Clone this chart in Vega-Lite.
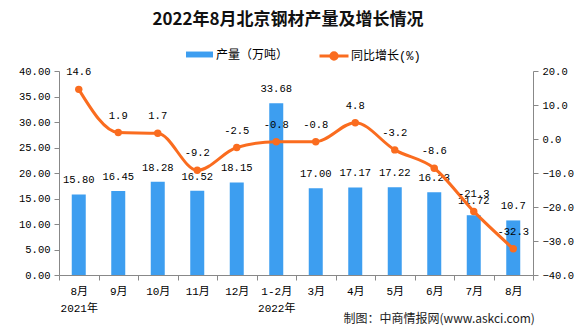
{
  "$schema": "https://vega.github.io/schema/vega-lite/v6.json",
  "width": 474,
  "height": 204,
  "autosize": {"type": "none"},
  "padding": {"left": 59, "top": 71, "right": 42, "bottom": 51},
  "background": "white",
  "title": {
    "text": "2022年8月北京钢材产量及增长情况",
    "font": "Noto Sans CJK SC",
    "fontSize": 17,
    "fontWeight": "bold",
    "color": "#111111",
    "anchor": "middle",
    "dx": -8,
    "offset": 11
  },
  "data": {
    "values": [
      {"period": "2021年8月", "prod": 15.80, "prodLabel": "15.80", "yoy": 14.6, "yoyLabel": "14.6"},
      {"period": "2021年9月", "prod": 16.45, "prodLabel": "16.45", "yoy": 1.9, "yoyLabel": "1.9"},
      {"period": "2021年10月", "prod": 18.28, "prodLabel": "18.28", "yoy": 1.7, "yoyLabel": "1.7"},
      {"period": "2021年11月", "prod": 16.52, "prodLabel": "16.52", "yoy": -9.2, "yoyLabel": "-9.2"},
      {"period": "2021年12月", "prod": 18.15, "prodLabel": "18.15", "yoy": -2.5, "yoyLabel": "-2.5"},
      {"period": "2022年1-2月", "prod": 33.68, "prodLabel": "33.68", "yoy": -0.8, "yoyLabel": "-0.8"},
      {"period": "2022年3月", "prod": 17.00, "prodLabel": "17.00", "yoy": -0.8, "yoyLabel": "-0.8"},
      {"period": "2022年4月", "prod": 17.17, "prodLabel": "17.17", "yoy": 4.8, "yoyLabel": "4.8"},
      {"period": "2022年5月", "prod": 17.22, "prodLabel": "17.22", "yoy": -3.2, "yoyLabel": "-3.2"},
      {"period": "2022年6月", "prod": 16.23, "prodLabel": "16.23", "yoy": -8.6, "yoyLabel": "-8.6"},
      {"period": "2022年7月", "prod": 11.72, "prodLabel": "11.72", "yoy": -21.3, "yoyLabel": "-21.3"},
      {"period": "2022年8月", "prod": 10.7, "prodLabel": "10.7", "yoy": -32.3, "yoyLabel": "-32.3"}
    ]
  },
  "encoding": {
    "x": {
      "field": "period",
      "type": "nominal",
      "sort": null,
      "scale": {"paddingInner": 0, "paddingOuter": 0},
      "axis": {
        "labelExpr": "!isString(datum.value) ? '' : datum.value == '2021年8月' ? ['8月', '2021年'] : datum.value == '2022年1-2月' ? ['1-2月', '2022年'] : substring(datum.value, 5)",
        "labelAngle": 0,
        "labelFont": "Liberation Mono, Noto Sans CJK SC",
        "labelFontSize": 11,
        "labelColor": "#000000",
        "labelLineHeight": 17,
        "labelPadding": 5,
        "tickBand": "extent",
        "tickSize": 5,
        "tickColor": "#888888",
        "domainColor": "#888888",
        "grid": false,
        "title": "制图：中商情报网(www.askci.com)",
        "titleX": 284,
        "titleY": 43,
        "titleAlign": "left",
        "titleBaseline": "middle",
        "titleFont": "Noto Sans CJK SC",
        "titleFontSize": 12,
        "titleFontWeight": "normal",
        "titleColor": "#222222"
      }
    }
  },
  "layer": [
    {
      "encoding": {
        "y": {
          "field": "prod",
          "type": "quantitative",
          "scale": {"domain": [0, 40], "nice": false},
          "axis": {
            "values": [0, 5, 10, 15, 20, 25, 30, 35, 40],
            "format": ".2f",
            "title": null,
            "grid": false,
            "labelFont": "Liberation Mono",
            "labelFontSize": 10.5,
            "labelColor": "#000000",
            "labelPadding": 4,
            "tickSize": 5,
            "tickColor": "#888888",
            "domainColor": "#888888"
          }
        }
      },
      "layer": [
        {
          "mark": {"type": "bar", "size": 14},
          "encoding": {
            "color": {
              "datum": "产量（万吨）",
              "scale": {"range": ["#3d9ef0"]},
              "legend": {
                "orient": "none",
                "legendX": 126,
                "legendY": -31,
                "title": null,
                "symbolType": "M-1,-0.22H1V0.22H-1Z",
                "symbolSize": 729,
                "labelOffset": 2,
                "labelFont": "Noto Sans CJK SC",
                "labelFontSize": 12,
                "labelColor": "#000000"
              }
            }
          }
        },
        {
          "mark": {"type": "text", "dy": -14, "font": "Liberation Mono", "fontSize": 10.5, "color": "#000000"},
          "encoding": {"text": {"field": "prodLabel"}}
        }
      ]
    },
    {
      "encoding": {
        "y": {
          "field": "yoy",
          "type": "quantitative",
          "scale": {"domain": [-40, 20], "nice": false},
          "axis": {
            "orient": "right",
            "values": [-40, -30, -20, -10, 0, 10, 20],
            "format": ".1f",
            "title": null,
            "grid": false,
            "labelFont": "Liberation Mono",
            "labelFontSize": 10.5,
            "labelColor": "#000000",
            "labelPadding": 4,
            "tickSize": 5,
            "tickColor": "#888888",
            "domainColor": "#888888"
          }
        }
      },
      "layer": [
        {
          "mark": {"type": "line", "interpolate": "monotone", "strokeWidth": 3},
          "encoding": {
            "stroke": {
              "datum": "同比增长(%)",
              "scale": {"range": ["#fa6c1f"]},
              "legend": {
                "orient": "none",
                "legendX": 259,
                "legendY": -31,
                "title": null,
                "symbolType": "M-1,0H1M-0.22,0A0.22,0.22 0 1,0 0.22,0A0.22,0.22 0 1,0 -0.22,0Z",
                "symbolSize": 841,
                "symbolStrokeWidth": 3,
                "symbolFillColor": "#fa6c1f",
                "labelOffset": 1,
                "labelFont": "Liberation Mono, Noto Sans CJK SC",
                "labelFontSize": 12,
                "labelColor": "#000000"
              }
            }
          }
        },
        {
          "mark": {"type": "point", "filled": true, "size": 55, "color": "#fa6c1f", "opacity": 1},
          "encoding": {}
        },
        {
          "mark": {"type": "text", "dy": -17, "font": "Liberation Mono", "fontSize": 10.5, "color": "#000000"},
          "encoding": {"text": {"field": "yoyLabel"}}
        }
      ]
    }
  ],
  "resolve": {"scale": {"y": "independent"}},
  "config": {
    "view": {"stroke": null}
  }
}
